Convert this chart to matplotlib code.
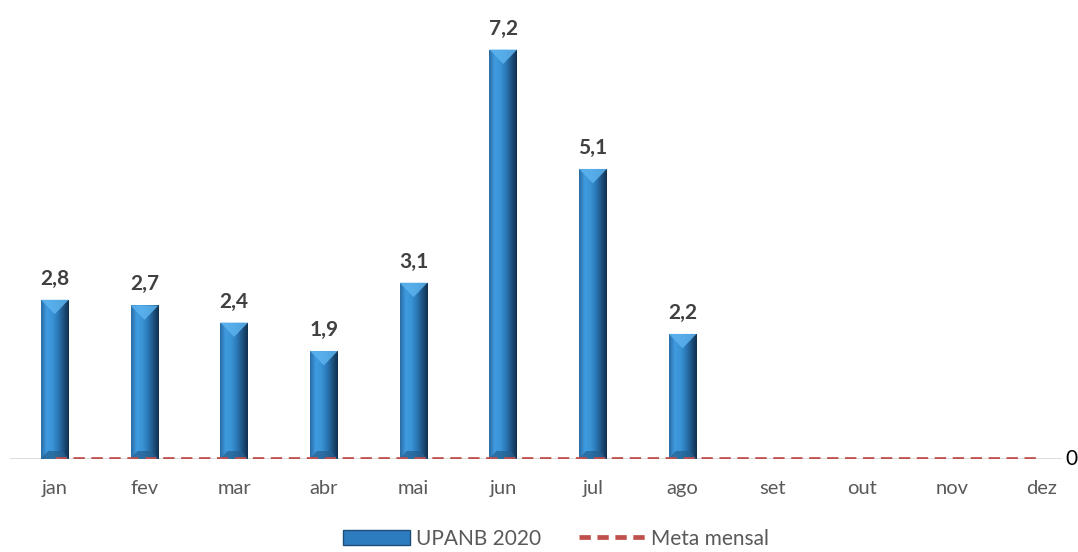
import numpy as np
import matplotlib.pyplot as plt
from matplotlib.patches import Polygon, Patch
from matplotlib.lines import Line2D
from matplotlib.colors import LinearSegmentedColormap

plt.rcParams['font.family'] = ['Lato', 'DejaVu Sans']

# data
meses = ['jan', 'fev', 'mar', 'abr', 'mai', 'jun', 'jul', 'ago', 'set', 'out', 'nov', 'dez']
upanb_2020 = [2.8, 2.7, 2.4, 1.9, 3.1, 7.2, 5.1, 2.2]
meta_mensal = [0] * 12

fig = plt.figure(figsize=(10.78, 5.52), dpi=100)
ax = fig.add_axes([10 / 1078, 93 / 552, 1052 / 1078, 455 / 552])

x = np.arange(len(meses))
xb = x[:len(upanb_2020)]
bars = ax.bar(xb, upanb_2020, width=0.31, color='#2e7cc0', zorder=2)

ax.set_xlim(-0.5, 11.23)
ax.set_ylim(0, 8)

# beveled look: horizontal gradient clipped to each bar + light top bevel
grad = LinearSegmentedColormap.from_list(
    'bev', ['#2a6ca4', '#3f9be0', '#3a94d6', '#2b7ab9', '#1f5584', '#10304f'])
g = np.linspace(0, 1, 64).reshape(1, -1)
px_per_y = 455 / 8
bev_y = 8 / px_per_y
for b in bars:
    x0, w, h = b.get_x(), b.get_width(), b.get_height()
    im = ax.imshow(g, cmap=grad, aspect='auto', extent=[x0, x0 + w, 0, h],
                   zorder=3, interpolation='bicubic')
    im.set_clip_path(b)
    tri = Polygon([[x0, h], [x0 + w, h], [x0 + w / 2, h - 1.8 * bev_y]],
                  closed=True, facecolor='#5cb3ee', edgecolor='none', zorder=4, alpha=0.85)
    ax.add_patch(tri)
    bot = Polygon([[x0, 0], [x0 + w, 0], [x0 + w * 0.75, bev_y], [x0 + w * 0.25, bev_y]],
                  closed=True, facecolor='#25608f', edgecolor='none', zorder=4, alpha=0.7)
    ax.add_patch(bot)
    ax.text(x0 + w / 2, h + 11 / px_per_y, f'{h:.1f}'.replace('.', ','),
            ha='center', va='bottom', fontsize=15, fontweight='bold', color='#404040')

ax.plot(x, meta_mensal, color='#c0504d', linestyle=(0, (2.4, 1.4)), linewidth=3.4,
        zorder=5, dash_capstyle='butt')
ax.annotate('0', xy=(1077 / 1078, (552 - 459) / 552), xycoords='figure fraction',
            ha='right', va='center', fontsize=15, color='black')

ax.axhline(0, color='#d9d9d9', linewidth=1.3, zorder=1)
for s in ax.spines.values():
    s.set_visible(False)
ax.set_yticks([])
ax.set_xticks(x)
ax.set_xticklabels(meses, fontsize=14.5, color='#595959')
ax.tick_params(axis='x', length=0, pad=15)

handles = [Patch(facecolor='#2e7cc0', edgecolor='#1d4e78'),
           Line2D([0], [0], color='#c0504d', linestyle=(0, (2.4, 1.4)), linewidth=3.4)]
fig.legend(handles, ['UPANB 2020', 'Meta mensal'], loc='center', bbox_to_anchor=(0.516, 0.024),
           ncol=2, frameon=False, fontsize=15, labelcolor='#595959',
           handlelength=3.2, handleheight=0.7, columnspacing=1.8, handletextpad=0.3)

fig.savefig('out.png', dpi=100)
